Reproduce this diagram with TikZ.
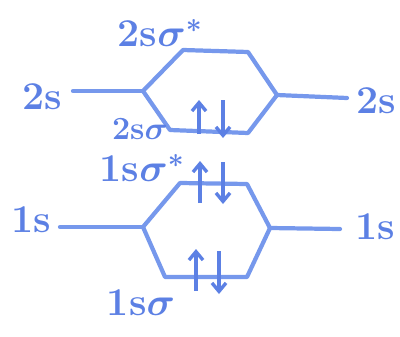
\RequirePackage{fix-cm}
\documentclass[tikz,border=0pt]{standalone}
\usepackage{tikz}
\usetikzlibrary{arrows.meta}
\definecolor{ink}{RGB}{118,152,236}
\definecolor{inkdark}{RGB}{92,128,228}

\begin{document}
\begin{tikzpicture}[x=0.025cm,y=-0.025cm,
  level/.style={line width=3pt, color=ink, line cap=round, line join=round},
  spin/.style={line width=2.4pt, color=inkdark, -{Straight Barb[length=6pt,width=10pt]}},
  lbl/.style={text=inkdark, font=\fontsize{28}{28}\selectfont\bfseries\boldmath, inner sep=0pt},
  sublbl/.style={text=inkdark, font=\fontsize{23}{23}\selectfont\bfseries\boldmath, inner sep=0pt}]

\useasboundingbox (0,0) rectangle (400,336);

% 2s levels
\node[lbl] (l2s) at (42,97) {2s};
\node[lbl] (r2s) at (376,101) {2s};
\coordinate (e2l) at (73,91);
\coordinate (a2l) at (143,91);
\coordinate (a2r) at (277,95);
\coordinate (e2r) at (347,98);
\coordinate (s2a) at (183,50);
\coordinate (s2b) at (248,52);
\coordinate (b2a) at (170,130);
\coordinate (b2b) at (248,133);

\draw[level] (e2l) -- (a2l);
\draw[level] (a2r) -- (e2r);
\draw[level] (a2l) -- (s2a) -- (s2b) -- (a2r);
\draw[level] (a2l) -- (b2a) -- (b2b) -- (a2r);

\node[lbl] (t2ss) at (160,33) {2s$\sigma^*$};
\node[sublbl] (t2s) at (140,129) {2s$\sigma$};

\draw[spin] (199,134) -- (199,100);
\draw[spin] (223,100) -- (223,138);

% 1s levels
\node[lbl] (l1s) at (31,220) {1s};
\node[lbl] (r1s) at (375,227) {1s};
\coordinate (e1l) at (60,227);
\coordinate (a1l) at (143,227);
\coordinate (a1r) at (270,228);
\coordinate (e1r) at (340,229);
\coordinate (s1a) at (180,183);
\coordinate (s1b) at (247,184);
\coordinate (b1a) at (165,277);
\coordinate (b1b) at (247,277);

\draw[level] (e1l) -- (a1l);
\draw[level] (a1r) -- (e1r);
\draw[level] (a1l) -- (s1a) -- (s1b) -- (a1r);
\draw[level] (a1l) -- (b1a) -- (b1b) -- (a1r);

\node[lbl] (t1ss) at (142,168) {1s$\sigma^*$};
\node[lbl] (t1s) at (141,303) {1s$\sigma$};

\draw[spin] (200,203) -- (200,161);
\draw[spin] (223,162) -- (223,204);
\draw[spin] (196,291) -- (196,249);
\draw[spin] (219,251) -- (219,294);

\end{tikzpicture}
\end{document}
